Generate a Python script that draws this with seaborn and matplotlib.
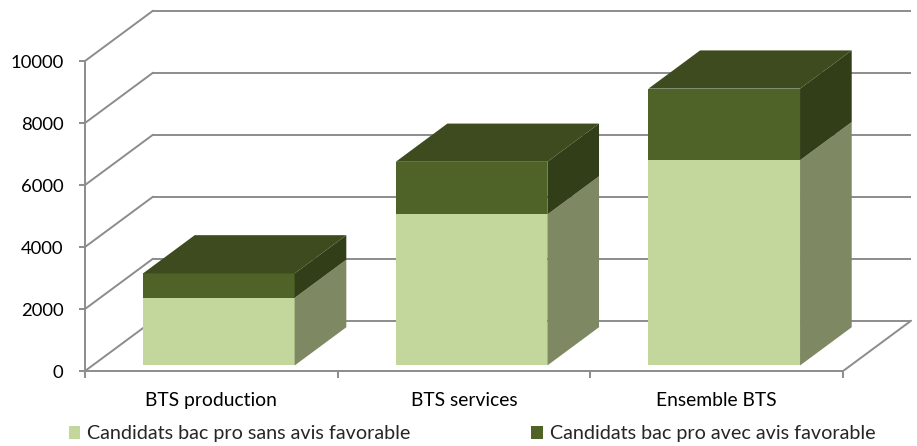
import matplotlib
matplotlib.use("Agg")
import matplotlib.pyplot as plt
import seaborn as sns
import pandas as pd
from matplotlib.patches import Polygon

# ---------------- data ----------------
categories = ["BTS production", "BTS services", "Ensemble BTS"]
sans_avis = [2180, 4870, 6620]      # Candidats bac pro sans avis favorable
avec_avis = [790, 1700, 2310]       # Candidats bac pro avec avis favorable
series_labels = ["Candidats bac pro sans avis favorable",
                 "Candidats bac pro avec avis favorable"]
y_ticks = [0, 2000, 4000, 6000, 8000, 10000]

# ---------------- style ----------------
LIGHT_FRONT = "#c3d69b"
LIGHT_SIDE = "#7e8963"
DARK_FRONT = "#4f6228"
DARK_SIDE = "#323e18"
DARK_TOP = "#3d4b1f"
GRID = "#8c8c8c"
LW = 1.4

sns.set_theme(style="white")
plt.rcParams['font.family'] = ['Lato', 'DejaVu Sans']

W, H, DPI = 917, 446, 100
fig = plt.figure(figsize=(W / DPI, H / DPI), dpi=DPI)

# geometry (pixels -> data units)
AX_LEFT_PX = 85
AX_BOTTOM_PX = 371
PX_PER_CAT = 252.7
PX_PER_VAL = 0.031
DX = 68 / PX_PER_CAT          # depth offset in category units
DY = 50.3 / PX_PER_VAL        # depth offset in value units
F0 = 0.11                     # depth of bar front face
FB = 0.76                     # bar depth

ax = fig.add_axes([AX_LEFT_PX / W, (H - AX_BOTTOM_PX) / H,
                   (W - AX_LEFT_PX) / W, AX_BOTTOM_PX / H])

df = pd.DataFrame({"categorie": categories, "sans": sans_avis, "avec": avec_avis})
df["total"] = df["sans"] + df["avec"]

sns.barplot(data=df, x="categorie", y="total", color=DARK_FRONT, saturation=1,
            width=0.6, ax=ax, label=series_labels[1], linewidth=0, zorder=3)
sns.barplot(data=df, x="categorie", y="sans", color=LIGHT_FRONT, saturation=1,
            width=0.6, ax=ax, label=series_labels[0], linewidth=0, zorder=3)
if ax.get_legend() is not None:
    ax.get_legend().remove()

dark_bars = list(ax.containers[0])
light_bars = list(ax.containers[1])

ddx, ddy = FB * DX, FB * DY
for db, lb in zip(dark_bars, light_bars):
    xa = db.get_x()
    xb = xa + db.get_width()
    top = db.get_height()
    mid = lb.get_height()
    # light side
    ax.add_patch(Polygon([(xb, 0), (xb + ddx, ddy), (xb + ddx, mid + ddy), (xb, mid)],
                         closed=True, facecolor=LIGHT_SIDE, edgecolor='none', zorder=3))
    # dark side
    ax.add_patch(Polygon([(xb, mid), (xb + ddx, mid + ddy), (xb + ddx, top + ddy), (xb, top)],
                         closed=True, facecolor=DARK_SIDE, edgecolor='none', zorder=3))
    # dark top
    ax.add_patch(Polygon([(xa, top), (xb, top), (xb + ddx, top + ddy), (xa + ddx, top + ddy)],
                         closed=True, facecolor=DARK_TOP, edgecolor='none', zorder=3))

# walls
n = len(categories)
fx, fy = -F0 * DX, -F0 * DY            # front plane offset
bx, by = (1 - F0) * DX, (1 - F0) * DY  # back plane offset
for v in y_ticks:
    ax.plot([-0.5 + bx, n - 0.5 + bx], [v + by, v + by], color=GRID, lw=LW,
            zorder=1, solid_capstyle='butt')
    ax.plot([-0.5 + fx, -0.5 + bx], [v + fy, v + by], color=GRID, lw=LW, zorder=1)
ax.plot([n - 0.5 + fx, n - 0.5 + bx], [fy, by], color=GRID, lw=LW, zorder=1)

x0 = -0.5 + fx
ax.set_xlim(x0, x0 + (W - AX_LEFT_PX) / PX_PER_CAT)
ax.set_ylim(fy, fy + AX_BOTTOM_PX / PX_PER_VAL)

for s in ["top", "right"]:
    ax.spines[s].set_visible(False)
for s in ["left", "bottom"]:
    ax.spines[s].set_color(GRID)
    ax.spines[s].set_linewidth(LW)
ax.spines["left"].set_bounds(fy, y_ticks[-1] + fy)
ax.spines["bottom"].set_bounds(x0, n - 0.5 + fx)

ax.set_yticks([v + fy for v in y_ticks], labels=[str(v) for v in y_ticks])
ax.set_xticks([b + fx for b in [i - 0.5 for i in range(n + 1)]], labels=[""] * (n + 1))
ax.set_xticks([i + fx for i in range(n)], labels=categories, minor=True)
ax.tick_params(axis='y', left=True, length=4.5, width=LW, color=GRID, pad=11,
               labelsize=13.3, labelcolor='black')
ax.tick_params(axis='x', which='major', bottom=True, length=5, width=LW, color=GRID)
ax.tick_params(axis='x', which='minor', bottom=True, length=0, pad=15,
               labelsize=13.9, labelcolor='black')
ax.set_xlabel("")
ax.set_ylabel("")
ax.grid(False)

fig.legend([light_bars[0], dark_bars[0]], series_labels, loc='center',
           bbox_to_anchor=(472 / W, (H - 434) / H), ncol=2, frameon=False,
           fontsize=14.2, handlelength=0.6, handleheight=0.6, handletextpad=0.35,
           columnspacing=6.1, borderpad=0, borderaxespad=0)

fig.savefig("out.png", dpi=DPI, facecolor="white")
